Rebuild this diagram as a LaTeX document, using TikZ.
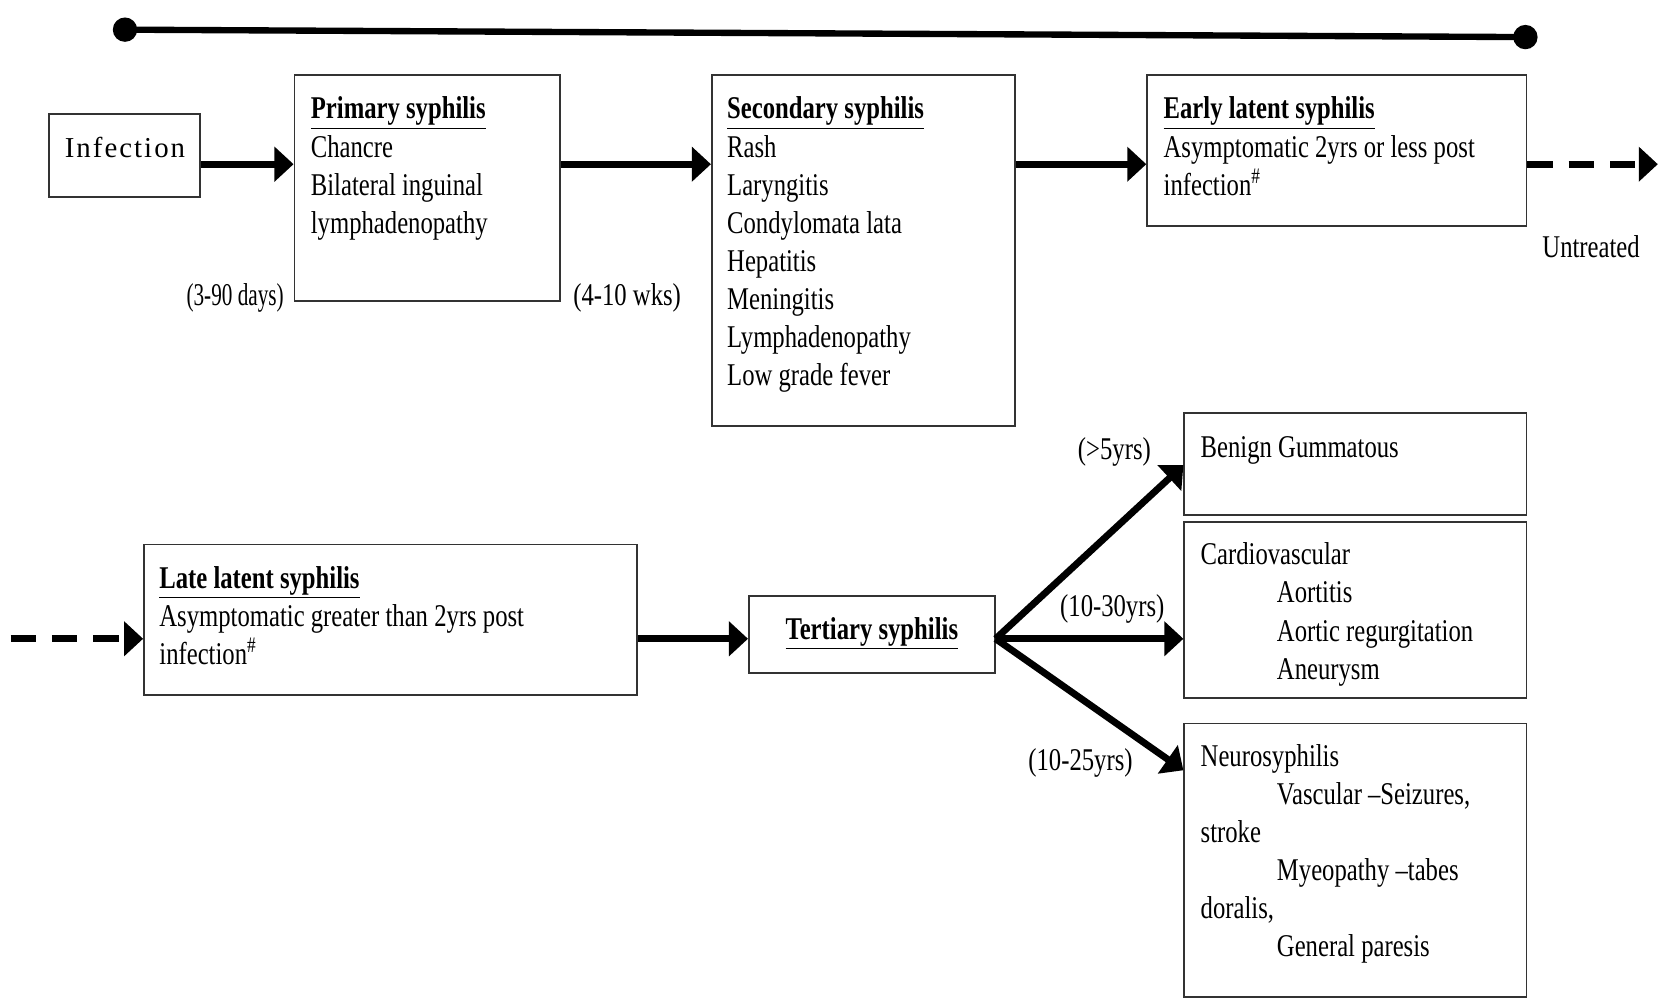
\documentclass[tikz,border=0pt]{standalone}
\usepackage{fontspec}
\setmainfont{Liberation Serif}[FakeStretch=0.78]
\newfontfamily\spacedfont{Liberation Serif}[LetterSpace=7]
\usetikzlibrary{arrows.meta,fit,calc}

\tikzset{
  stage/.style={draw=black!80, line width=1pt, inner sep=0pt},
  stagetext/.style={anchor=north west, align=left, inner sep=0pt},
  tag/.style={inner sep=0pt},
  flow/.style={line width=0.13cm, -{Triangle[length=0.36cm,width=0.64cm]}},
  untreated/.style={flow, dash pattern=on 0.48cm off 0.3cm},
}

\begin{document}
\begin{tikzpicture}[x=0.02cm, y=-0.02cm, font=\fontsize{17}{20.5}\selectfont]
\useasboundingbox (0,0) rectangle (1568,944);
% timeline
\coordinate (start) at (118,28);
\coordinate (stop) at (1440,35);
\draw[line width=0.12cm] (start) -- (stop);
\fill (start) circle (0.23cm);
\fill (stop) circle (0.23cm);

\coordinate (row1) at (0,155);
\coordinate (row2) at (0,603);

% first row
\node[stage, fit={(46,108) (189,186)}] (inf) {};
\node[tag] (inftxt) at (118,139) {\fontsize{15.5}{18}\spacedfont Infection};

\node[stage, fit={(278,71) (529,284)}] (prim) {};
\node[stagetext] (primtxt) at ($(prim.north west)+(16,21)$)
  {\underline{\textbf{Primary syphilis}}\\Chancre\\Bilateral inguinal\\lymphadenopathy};

\node[stage, fit={(672,71) (958,402)}] (sec) {};
\node[stagetext] (sectxt) at ($(sec.north west)+(15,21)$)
  {\underline{\textbf{Secondary syphilis}}\\Rash\\Laryngitis\\Condylomata lata\\Hepatitis\\Meningitis\\Lymphadenopathy\\Low grade fever};

\node[stage, fit={(1083,71) (1441,213)}] (early) {};
\node[stagetext] (earlytxt) at ($(early.north west)+(16,21)$)
  {\underline{\textbf{Early latent syphilis}}\\Asymptomatic 2yrs or less post\\infection\textsuperscript{\#}};

\node[tag] (d1) at (222,281) {\scalebox{0.86}[1]{(3-90 days)}};
\node[tag] (d2) at (592,281) {(4-10 wks)};
\node[tag] (untr) at (1502,233) {Untreated};

% second row
\node[stage, fit={(136,514) (601,656)}] (late) {};
\node[stagetext] (latetxt) at ($(late.north west)+(15,21)$)
  {\underline{\textbf{Late latent syphilis}}\\Asymptomatic greater than 2yrs post\\infection\textsuperscript{\#}};

\node[stage, fit={(707,563) (939,635)}] (tert) {};
\node[tag] (terttxt) at (823,598) {\underline{\textbf{Tertiary syphilis}}};

\node[stage, fit={(1118,390) (1441,486)}] (benign) {};
\node[stagetext] (benigntxt) at ($(benign.north west)+(16,23)$) {Benign Gummatous};

\node[stage, fit={(1118,493) (1441,659)}] (cardio) {};
\node[stagetext] (cardiotxt) at ($(cardio.north west)+(16,20)$)
  {Cardiovascular\\\hspace*{1.44cm}Aortitis\\\hspace*{1.44cm}Aortic regurgitation\\\hspace*{1.44cm}Aneurysm};

\node[stage, fit={(1118,683) (1441,941)}] (neuro) {};
\node[stagetext] (neurotxt) at ($(neuro.north west)+(16,20)$)
  {Neurosyphilis\\\hspace*{1.44cm}Vascular --Seizures,\\stroke\\\hspace*{1.44cm}Myeopathy --tabes\\doralis,\\\hspace*{1.44cm}General paresis};

\node[tag] (t1) at (1052,427) {(>5yrs)};
\node[tag] (t2) at (1050,575) {(10-30yrs)};
\node[tag] (t3) at (1020,720) {(10-25yrs)};

% connectors
\coordinate (out) at (1565,155);
\coordinate (in) at (10,603);
\draw[flow] (inf.east |- row1) -- (prim.west |- row1);
\draw[flow] (prim.east |- row1) -- (sec.west |- row1);
\draw[flow] (sec.east |- row1) -- (early.west |- row1);
\draw[untreated] (early.east |- row1) -- (out);
\draw[untreated] (in) -- (late.west |- row2);
\draw[flow] (late.east |- row2) -- (tert.west |- row2);
\draw[flow] (tert.east |- row2) -- ($(benign.north west)+(0,50)$);
\draw[flow] (tert.east |- row2) -- (cardio.west |- row2);
\draw[flow] (tert.east |- row2) -- ($(neuro.north west)+(0,45)$);
\end{tikzpicture}
\end{document}
